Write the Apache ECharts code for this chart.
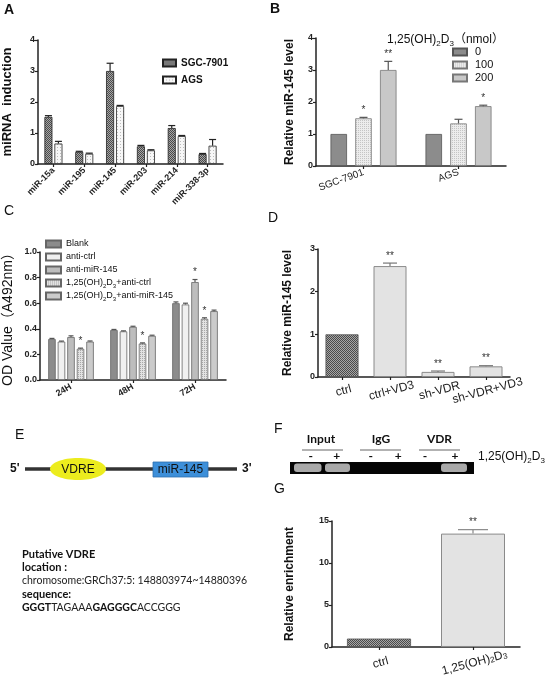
<!DOCTYPE html>
<html><head><meta charset="utf-8">
<script src="https://cdn.jsdelivr.net/npm/echarts@6/dist/echarts.min.js"></script>
<style>html,body{margin:0;padding:0;background:#fff}#c{width:550px;height:678px}</style>
</head><body><div id="c"></div>
<script>
// ---------- DATA ----------
const catsA = ['miR-15a','miR-195','miR-145','miR-203','miR-214','miR-338-3p'];
const sgcA = [1.52,0.39,3.0,0.57,1.16,0.32];
const sgcErrA = [0.04,0.02,0.25,0.03,0.08,0.02];
const agsA = [0.66,0.33,1.87,0.44,0.9,0.59];
const agsErrA = [0.07,0.02,0.02,0.02,0.02,0.2];

const catsB = ['SGC-7901','AGS'];
const b0 = [1.0,1.0];   const b0Err = [0,0];     const b0Star = ['',''];
const b100 = [1.49,1.33]; const b100Err = [0.03,0.13]; const b100Star = ['*',''];
const b200 = [3.0,1.87]; const b200Err = [0.27,0.03]; const b200Star = ['**','*'];

const catsC = ['24H','48H','72H'];
const cBlank = [0.32,0.39,0.6];   const cBlankErr = [0.005,0.005,0.01];
const cAntiCtrl = [0.30,0.38,0.59]; const cAntiCtrlErr = [0.004,0.004,0.01];
const cAntiMiR = [0.335,0.415,0.765]; const cAntiMiRErr = [0.01,0.005,0.02];
const cD3Ctrl = [0.244,0.285,0.478]; const cD3CtrlErr = [0.005,0.005,0.008];
const cD3MiR = [0.30,0.345,0.538]; const cD3MiRErr = [0.005,0.005,0.008];
const cStarsAntiMiR = ['','','*'];
const cStarsD3Ctrl = ['*','*','*'];

const catsD = ['ctrl','ctrl+VD3','sh-VDR','sh-VDR+VD3'];
const dVal = [1.0,2.6,0.12,0.25];
const dErr = [0,0.07,0.02,0.015];
const dStar = ['','**','**','**'];

const catsG = ['ctrl','1,25(OH){s|2}D{s|3}'];
const gVal = [1.0,13.5];
const gErr = [0,0.47];
const gStar = ['','**'];

// ---------- STYLE ----------
const FONT = '"Liberation Sans", Arial, "Noto Sans CJK SC", sans-serif';
const FONT_E = 'Lato, "Open Sans", sans-serif';
const AX = '#222';

function pat(size, bg, fg, cells){
  const c = document.createElement('canvas'); c.width = c.height = size;
  const g = c.getContext('2d'); g.fillStyle = bg; g.fillRect(0,0,size,size);
  g.fillStyle = fg; cells.forEach(p=>g.fillRect(p[0],p[1],1,1));
  return {image:c, repeat:'repeat'};
}
const checkDark = pat(2,'#a6a6a6','#4a4a4a',[[0,0],[1,1]]);
const dotsWhite = pat(3,'#f7f7f7','#bdbdbd',[[0,0]]);
const dotsLight = pat(2,'#ececec','#c4c4c4',[[0,0]]);
const dotsMid = pat(2,'#e2e2e2','#a8a8a8',[[0,0]]);

function yAx(gi, max, interval, name, nameGap, nameSize, nameWeight, fmt){
  return {type:'value', gridIndex:gi, min:0, max:max, interval:interval, name:name,
    nameLocation:'middle', nameGap:nameGap,
    nameTextStyle:{fontSize:nameSize, fontWeight:nameWeight, color:'#111', fontFamily:FONT},
    axisLine:{show:true, lineStyle:{color:AX, width:1.5}},
    axisTick:{show:true, length:3, lineStyle:{color:AX, width:1.2}},
    splitLine:{show:false},
    axisLabel:{fontSize:9, fontWeight:'bold', color:AX, margin:3, fontFamily:FONT, formatter:fmt}};
}
function xAx(gi, data, rotate, fontSize, weight, margin, extra){
  return {type:'category', gridIndex:gi, data:data,
    axisLine:{lineStyle:{color:AX, width:1.5}},
    axisTick:{show:true, alignWithLabel:true, length:3, lineStyle:{color:AX, width:1.2}},
    axisLabel:Object.assign({rotate:rotate, fontSize:fontSize, fontWeight:weight, color:AX, margin:margin, interval:0, fontFamily:FONT}, extra||{})};
}
function errSeries(gi, n, idx, barW, gapR, vals, errs, stars, capHalf, color){
  return {type:'custom', xAxisIndex:gi, yAxisIndex:gi, z:5, silent:true,
    data: vals.map((v,i)=>[i,v]),
    renderItem: function(params, api){
      const i = params.dataIndex;
      const v = api.value(1), e = errs[i];
      const base = api.coord([api.value(0), v]);
      const top = api.coord([api.value(0), v + e]);
      const x = base[0] + (idx - (n-1)/2) * barW * (1+gapR);
      const ch = [];
      if (e > 0) {
        ch.push({type:'line', shape:{x1:x,y1:base[1],x2:x,y2:top[1]}, style:{stroke:color, lineWidth:1.2}});
        ch.push({type:'line', shape:{x1:x-capHalf,y1:top[1],x2:x+capHalf,y2:top[1]}, style:{stroke:color, lineWidth:1.2}});
      }
      if (stars && stars[i]) ch.push({type:'text', x:x, y:top[1]-2,
        style:{text:stars[i], align:'center', verticalAlign:'bottom', fontSize:10, fill:'#333', fontFamily:FONT}});
      return {type:'group', children:ch};
    }};
}
function bar(gi, name, data, barW, gapR, color, border){
  return {type:'bar', name:name, xAxisIndex:gi, yAxisIndex:gi, data:data, barWidth:barW, barGap:(gapR*100)+'%',
    itemStyle:{color:color, borderColor:border||'#333', borderWidth:0.8}};
}

const chart = echarts.init(document.getElementById('c'), null, {renderer:'canvas'});

const series = [];
// A (grid 0)
series.push(bar(0,'SGC-7901',sgcA,8,0.25,checkDark,'#222'));
series.push(bar(0,'AGS',agsA,8,0.25,dotsWhite,'#222'));
series.push(errSeries(0,2,0,8,0.25,sgcA,sgcErrA,null,3.5,'#222'));
series.push(errSeries(0,2,1,8,0.25,agsA,agsErrA,null,3.5,'#222'));
// B (grid 1)
series.push(bar(1,'0',b0,16.5,0.5,'#8c8c8c','#555'));
series.push(bar(1,'100',b100,16.5,0.5,dotsLight,'#777'));
series.push(bar(1,'200',b200,16.5,0.5,'#c8c8c8','#777'));
series.push(errSeries(1,3,0,16.5,0.5,b0,b0Err,b0Star,4,'#555'));
series.push(errSeries(1,3,1,16.5,0.5,b100,b100Err,b100Star,4,'#555'));
series.push(errSeries(1,3,2,16.5,0.5,b200,b200Err,b200Star,4,'#555'));
// C (grid 2)
const cNames = ['Blank','anti-ctrl','anti-miR-145','1,25(OH)2D3+anti-ctrl','1,25(OH)2D3+anti-miR-145'];
const cVals = [cBlank,cAntiCtrl,cAntiMiR,cD3Ctrl,cD3MiR];
const cErrs = [cBlankErr,cAntiCtrlErr,cAntiMiRErr,cD3CtrlErr,cD3MiRErr];
const cStars = [null,null,cStarsAntiMiR,cStarsD3Ctrl,null];
const cCols = ['#8c8c8c','#f0f0f0','#bdbdbd',dotsMid,'#cbcbcb'];
cNames.forEach((n,k)=>series.push(bar(2,n,cVals[k],7.5,0.27,cCols[k],'#666')));
cNames.forEach((n,k)=>series.push(errSeries(2,5,k,7.5,0.27,cVals[k],cErrs[k],cStars[k],2.5,'#555')));
// D (grid 3)
series.push({type:'bar', name:'D', xAxisIndex:3, yAxisIndex:3, barWidth:33,
  data: dVal.map((v,i)=>({value:v, itemStyle: i===0 ? {color:checkDark, borderColor:'#555', borderWidth:0.8} : {color:'#e3e3e3', borderColor:'#8a8a8a', borderWidth:1}}))});
series.push(errSeries(3,1,0,33,0,dVal,dErr,dStar,7,'#777'));
// G (grid 4)
series.push({type:'bar', name:'G', xAxisIndex:4, yAxisIndex:4, barWidth:64,
  data: gVal.map((v,i)=>({value:v, itemStyle: i===0 ? {color:checkDark, borderColor:'#555', borderWidth:0.8} : {color:'#e3e3e3', borderColor:'#8a8a8a', borderWidth:1}}))});
series.push(errSeries(4,1,0,64,0,gVal,gErr,gStar,15,'#888'));

const RICH_SUB12 = {s:{fontSize:8, verticalAlign:'bottom', lineHeight:8, fontFamily:FONT}};

function T(x,y,text,size,weight,extra){
  return Object.assign({type:'text', x:x, y:y, silent:true,
    style:{text:text, fontSize:size, fontWeight:weight||'normal', fill:'#111', fontFamily:FONT, align:'left', verticalAlign:'middle'}}, extra||{});
}
function ctext(x,y,text,size,weight,font){
  return {type:'text', x:x, y:y, silent:true, style:{text:text, fontSize:size, fontWeight:weight||'normal', fill:'#111', fontFamily:font||FONT, align:'center', verticalAlign:'middle'}};
}

const graphics = [
  // panel letters
  T(4,10,'A',14,'bold'), T(270,9,'B',14,'bold'), T(4,211,'C',14,'normal'), T(268,218,'D',14,'normal'),
  T(15,435,'E',14,'normal'), T(274,429,'F',14,'normal'), T(274,489,'G',14,'normal'),
  // B legend title
  {type:'text', x:387, y:40, silent:true, style:{text:'1,25(OH){s|2}D{s|3}（nmol）', fontSize:12, fill:'#111', fontFamily:FONT, verticalAlign:'middle', lineHeight:15, rich:RICH_SUB12}},
  // E diagram
  {type:'line', shape:{x1:25,y1:469,x2:237,y2:469}, style:{stroke:'#333', lineWidth:3.5}, silent:true},
  {type:'ellipse', shape:{cx:78,cy:469,rx:28,ry:11}, style:{fill:'#ecec1e'}, silent:true},
  ctext(78,469.5,'VDRE',12,'normal'),
  {type:'rect', shape:{x:153,y:462,width:55,height:15}, style:{fill:'#3d8fd9', stroke:'#2d6fae', lineWidth:0.8}, silent:true},
  ctext(180.5,469.5,'miR-145',12,'normal'),
  T(10,469,"5'",12,'bold'), T(242,469,"3'",12,'bold'),
  {type:'text', x:22, y:554, silent:true, style:{text:'Putative VDRE', fontSize:11, fontWeight:'bold', fill:'#111', fontFamily:FONT_E, verticalAlign:'middle'}},
  {type:'text', x:22, y:567, silent:true, style:{text:'location :', fontSize:11, fontWeight:'bold', fill:'#111', fontFamily:FONT_E, verticalAlign:'middle'}},
  {type:'text', x:22, y:581, silent:true, style:{text:'chromosome:GRCh37:5: 148803974~14880396', fontSize:10.5, fill:'#222', fontFamily:FONT_E, verticalAlign:'middle'}},
  {type:'text', x:22, y:594, silent:true, style:{text:'sequence:', fontSize:11, fontWeight:'bold', fill:'#111', fontFamily:FONT_E, verticalAlign:'middle'}},
  {type:'text', x:22, y:608, silent:true, style:{text:'{b|GGGT}TAGAAA{b|GAGGGC}ACCGGG', fontSize:10.5, fill:'#222', fontFamily:FONT_E, verticalAlign:'middle',
     rich:{b:{fontWeight:'bold', fontSize:10.5, fill:'#111', fontFamily:FONT_E}}}},
  // F gel
  {type:'rect', shape:{x:290,y:462,width:184,height:12}, style:{fill:'#050505'}, silent:true},
  {type:'rect', shape:{x:294,y:463.5,width:27.5,height:8.5,r:3}, style:{fill:'#a9a9a9'}, silent:true},
  {type:'rect', shape:{x:325,y:463.5,width:25,height:8.5,r:3}, style:{fill:'#a9a9a9'}, silent:true},
  {type:'rect', shape:{x:441,y:463.5,width:26,height:8.5,r:3}, style:{fill:'#a9a9a9'}, silent:true},
  ctext(321,439,'Input',12,'bold',FONT_E), ctext(381,439,'IgG',12,'bold',FONT_E), ctext(439.5,439,'VDR',12,'bold',FONT_E),
  {type:'line', shape:{x1:302,y1:450,x2:343,y2:450}, style:{stroke:'#666', lineWidth:1}, silent:true},
  {type:'line', shape:{x1:360,y1:450,x2:401,y2:450}, style:{stroke:'#666', lineWidth:1}, silent:true},
  {type:'line', shape:{x1:419,y1:450,x2:460,y2:450}, style:{stroke:'#666', lineWidth:1}, silent:true},
  ctext(310.7,456,'-',12,'bold',FONT_E), ctext(336.7,456,'+',12,'bold',FONT_E),
  ctext(370.7,456,'-',12,'bold',FONT_E), ctext(398.3,456,'+',12,'bold',FONT_E),
  ctext(425,456,'-',12,'bold',FONT_E), ctext(455,456,'+',12,'bold',FONT_E),
  {type:'text', x:478, y:457, silent:true, style:{text:'1,25(OH){s|2}D{s|3}', fontSize:12, fill:'#111', fontFamily:FONT, verticalAlign:'middle', lineHeight:15, rich:RICH_SUB12}}
];

const option = {
  animation:false,
  backgroundColor:'#fff',
  textStyle:{fontFamily:FONT},
  grid:[
    {left:37, top:40, width:186, height:124},
    {left:316, top:38, width:190, height:128},
    {left:36, top:252, width:190, height:128},
    {left:318, top:249, width:192, height:128},
    {left:332, top:521, width:188, height:127}
  ],
  xAxis:[
    xAx(0,catsA,45,9,'bold',5),
    xAx(1,catsB,20,10,'normal',6),
    xAx(2,catsC,30,9,'bold',6),
    xAx(3,catsD,15,12,'normal',8,{align:'center', verticalAlign:'top'}),
    xAx(4,catsG,15,12,'normal',10,{align:'center', verticalAlign:'top', rich:{s:{fontSize:8, verticalAlign:'bottom', lineHeight:8, fontFamily:FONT}}})
  ],
  yAxis:[
    yAx(0,4,1,'miRNA  induction',24,13,'bold'),
    yAx(1,4,1,'Relative miR-145 level',20,12,'bold'),
    yAx(2,1,0.2,'OD Value（A492nm）',25,14,'normal',v=>v.toFixed(1)),
    yAx(3,3,1,'Relative miR-145 level',24,12,'bold'),
    yAx(4,15,5,'Relative enrichment',36,12,'bold')
  ],
  legend:[
    {left:162, top:58, orient:'vertical', padding:0, icon:'rect', itemWidth:13, itemHeight:7, itemGap:7, selectedMode:false,
      textStyle:{fontSize:10, fontWeight:'bold', color:'#111', fontFamily:FONT}, data:['SGC-7901','AGS']},
    {left:452, top:46, orient:'vertical', padding:0, icon:'rect', itemWidth:14, itemHeight:7, itemGap:1, selectedMode:false,
      itemGap:1, textStyle:{fontSize:11, color:'#111', fontFamily:FONT, lineHeight:12, padding:[0,0,0,3]}, data:['0','100','200']},
    {left:45, top:238, orient:'vertical', padding:0, icon:'rect', itemWidth:15, itemHeight:7, itemGap:1, selectedMode:false,
      formatter: n => n.replace('(OH)2D3','(OH){s|2}D{s|3}'),
      textStyle:{fontSize:9, color:'#111', fontFamily:FONT, lineHeight:12, rich:{s:{fontSize:6, verticalAlign:'bottom', lineHeight:6, fontFamily:FONT}}},
      data:cNames}
  ],
  series:series,
  graphic:graphics
};
chart.setOption(option);
</script></body></html>
